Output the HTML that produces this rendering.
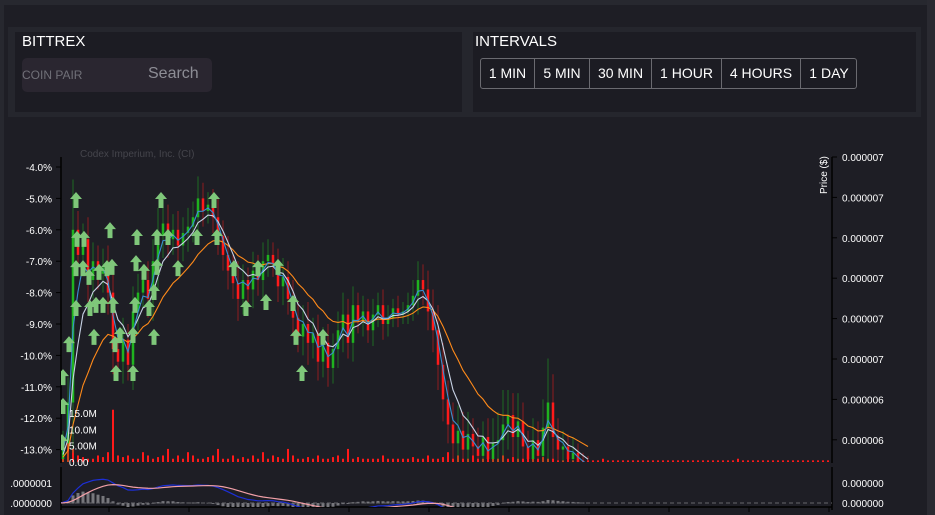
<!DOCTYPE html>
<html><head><meta charset="utf-8"><style>
*{margin:0;padding:0;box-sizing:border-box}
body{width:935px;height:515px;overflow:hidden;background:#1e1e25;font-family:"Liberation Sans",sans-serif;position:relative}
.abs{position:absolute}
.btn{position:absolute;top:0;height:30px;border-right:1px solid #6a6a70;color:#fff;font-size:14px;line-height:29px;text-align:center}
</style></head><body>
<div class="abs" style="left:0;top:0;width:935px;height:5px;background:#27282f"></div>
<div class="abs" style="left:0;top:0;width:4px;height:515px;background:#27282f"></div>
<div class="abs" style="left:927px;top:0;width:8px;height:515px;background:#2a2a31"></div>
<div class="abs" style="left:8px;top:27px;width:913px;height:90px;background:#25262d"></div>
<div class="abs" style="left:15px;top:32px;width:447px;height:80px;background:#1c1c23"></div>
<div class="abs" style="left:473px;top:32px;width:443px;height:80px;background:#1c1c23"></div>
<div class="abs" style="left:22px;top:33px;color:#fff;font-size:15px">BITTREX</div>
<div class="abs" style="left:22px;top:58px;width:190px;height:34px;background:#2a2630;border-radius:5px">
 <span style="position:absolute;left:0;top:10px;font-size:12px;color:#707078">COIN PAIR</span>
 <span style="position:absolute;left:126px;top:7px;font-size:16px;color:#8d8d95">Search</span>
</div>
<div class="abs" style="left:475px;top:33px;color:#fff;font-size:15px">INTERVALS</div>
<div class="abs" style="left:480px;top:58px;width:377px;height:31px;border:1px solid #6a6a70;border-radius:3px">
 <div class="btn" style="left:0;width:54px">1 MIN</div>
 <div class="btn" style="left:54px;width:55px">5 MIN</div>
 <div class="btn" style="left:109px;width:62px">30 MIN</div>
 <div class="btn" style="left:171px;width:70px">1 HOUR</div>
 <div class="btn" style="left:241px;width:79px">4 HOURS</div>
 <div class="btn" style="left:320px;width:56px;border-right:none">1 DAY</div>
</div>
<svg id="chart" class="abs" style="left:0;top:0" width="935" height="515" font-family="Liberation Sans, sans-serif">
<defs><clipPath id="cm"><rect x="61" y="150" width="771" height="312"/></clipPath>
<clipPath id="ci"><rect x="61" y="466" width="771" height="41"/></clipPath></defs>
<g id="axes"></g><g id="vol" clip-path="url(#cm)"></g><g id="candles" clip-path="url(#cm)"></g><g id="mas" clip-path="url(#cm)"></g><g id="sig" clip-path="url(#cm)"></g><g id="ind" clip-path="url(#ci)"></g><g id="labels"></g>
</svg>
<script>
const closes=[-12.8,-11.5,-6.0,-6.8,-6.3,-7.6,-7.0,-7.4,-7.2,-8.0,-9.8,-10.2,-9.5,-10.3,-8.6,-8.0,-7.6,-8.2,-7.0,-6.2,-5.8,-6.3,-6.0,-6.5,-6.1,-5.9,-5.6,-5.0,-5.4,-5.2,-5.6,-6.2,-6.8,-7.3,-7.7,-8.2,-7.6,-7.9,-7.3,-7.6,-7.0,-6.8,-7.1,-7.8,-7.5,-8.2,-8.8,-9.4,-9.0,-9.6,-9.3,-10.2,-9.6,-10.4,-9.8,-9.2,-8.7,-9.6,-8.4,-8.9,-8.6,-9.2,-8.7,-8.4,-9.0,-8.8,-8.5,-8.7,-8.6,-8.4,-8.1,-7.6,-7.9,-8.6,-9.2,-10.3,-11.4,-12.2,-12.8,-12.4,-13.0,-12.5,-12.9,-13.2,-12.6,-13.3,-12.8,-12.7,-12.2,-11.9,-12.6,-12.1,-12.9,-13.3,-12.7,-13.2,-12.3,-11.5,-12.6,-13.0,-12.9,-13.3,-13.1,-13.4,-13.5,-13.6];
const firstOpen=-13.3;
const wicks=[0.4,0.8,1.6,0.6,0.5,0.7,0.6,0.5,0.6,0.7,0.8,0.6,0.7,0.5,0.8,0.6,0.5,0.6,0.7,0.9,0.7,0.6,0.5,0.6,0.5,0.6,0.5,0.7,0.5,0.4,0.5,0.6,0.5,0.6,0.5,0.7,0.5,0.4,0.6,0.5,0.6,0.5,0.4,0.5,0.6,0.5,0.6,0.5,0.6,0.7,0.5,0.6,0.5,0.6,0.5,0.6,0.7,0.5,0.6,0.4,0.5,0.4,0.5,0.4,0.5,0.4,0.3,0.4,0.3,0.4,0.5,0.6,0.5,0.6,0.7,0.8,0.7,0.6,0.7,0.8,0.6,0.7,0.5,0.6,0.5,0.6,0.8,0.9,1.1,0.8,0.7,0.9,0.6,0.5,0.7,0.6,0.9,1.4,0.9,0.6,0.5,0.4,0.5,0.3,0.3,0.3];
const volumes=[6,9,4,2,1.5,1,1,2,1.5,3,16,2,1.5,2,1,1,3,2,1,1.5,2,4,1,2,1,3,2,1,1,1.5,2,4,1,1,2,1,1.5,1,2,1,3,1,2,1.5,1,4,2,1,1,1.5,1,2,1,1,1.5,2,1,4,1,1.5,1,1,1,1,2,1,1,1,1,1,1.5,1,1,2,1,1,1.5,3,1,2,1,1,2,1,1,1.5,1,1,2,1,1.5,1,1,2,1,1,1.5,1,1,0.5,0.5,1,0.5,0.5,0.5,0.5,0.5,0.5,1,0.5,0.5,0.5,0.5,0.5,0.5,0.5,0.5,0.5,0.5,0.5,0.5,0.5,0.5,0.5,0.5,0.5,0.5,0.5,0.5,0.5,0.5,0.5,0.5,0.5,0.5,1,0.5,0.5,0.5,0.5,0.5,0.5,0.5,0.5,0.5,0.5,0.5,0.5,0.5,0.5,0.5,0.5,0.5,0.5];
const signalIdx=[2.6,2.8,4.2,2.6,4.0,2.6,1.2,0,0,-0.2,5.2,5.4,6.2,6.6,7.2,8,8.8,9.4,9.8,10,10.4,10.6,11.4,14,14,14.4,14.8,14.6,16.2,17.2,18.2,18.2,18.8,18.8,19.6,21,23,26.8,30.2,30.8,34.2,36.6,39,40.6,43,46,46.6,47.8,52];
const signalPct=[-5.05,-6.29,-6.29,-7.22,-7.22,-8.49,-9.64,-10.69,-11.61,-12.76,-7.50,-8.49,-9.41,-8.39,-7.34,-8.39,-7.22,-6.01,-7.18,-8.39,-9.64,-10.56,-9.35,-9.35,-10.56,-8.39,-6.23,-7.06,-7.34,-8.49,-7.98,-9.41,-6.23,-7.18,-5.05,-6.23,-7.22,-6.23,-5.05,-6.23,-7.22,-8.49,-7.22,-8.30,-7.18,-8.33,-9.41,-10.56,-9.41];
const pctTicks=[-4,-5,-6,-7,-8,-9,-10,-11,-12,-13];
const priceTicks=["0.000007","0.000007","0.000007","0.000007","0.000007","0.000007","0.000006","0.000006"];
const volTicks=[["15.0M",15],["10.0M",10],["5.00M",5],["0.00",0]];
const NS="http://www.w3.org/2000/svg";
const X=i=>63+5*i, Y=p=>167+(-4-p)*31.4, YV=v=>462-v*49/15, YI=m=>503-m*14;
function mk(t,a,parent,txt){const e=document.createElementNS(NS,t);for(const k in a)e.setAttribute(k,a[k]);if(txt!==undefined)e.textContent=txt;document.getElementById(parent).appendChild(e);return e;}
let e=mk('line',{x1:61,y1:157,x2:61,y2:463,stroke:'#000','stroke-width':1.5},'axes');

e=mk('line',{x1:832,y1:157,x2:832,y2:463,stroke:'#000','stroke-width':1.5},'axes');

e=mk('line',{x1:61,y1:467,x2:61,y2:510,stroke:'#000','stroke-width':1.5},'axes');

e=mk('line',{x1:832,y1:467,x2:832,y2:510,stroke:'#000','stroke-width':1.5},'axes');

e=mk('line',{x1:61,y1:507,x2:832,y2:507,stroke:'#000','stroke-width':1.5},'axes');

for(let k=0;k<10;k++){e=mk('line',{x1:109+80*k,y1:507,x2:109+80*k,y2:512,stroke:'#000'},'axes');}
pctTicks.forEach(p=>{mk('line',{x1:56,y1:Y(p),x2:61,y2:Y(p),stroke:'#000'},'axes');
 e=mk('text',{x:52,y:Y(p)+4,'text-anchor':'end',fill:'#fff','font-size':10},'axes',p.toFixed(1)+'%');
 });
priceTicks.forEach((t,k)=>{const y=157+40.4*k;mk('line',{x1:832,y1:y,x2:837,y2:y,stroke:'#000'},'axes');
 e=mk('text',{x:842,y:y+4,fill:'#fff','font-size':10},'axes',t);
 });
[[483,'.0000001'],[503,'.0000000']].forEach(([y,t])=>{e=mk('text',{x:52,y:y+4,'text-anchor':'end',fill:'#fff','font-size':10},'axes',t);
 
 e=mk('text',{x:842,y:y+4,fill:'#fff','font-size':10},'axes','0.000000');
 });
e=mk('text',{x:0,y:0,transform:'translate(827,194) rotate(-90)',fill:'#fff','font-size':10},'axes','Price ($)');

e=mk('text',{x:80,y:157,fill:'#45454c','font-size':10},'axes','Codex Imperium, Inc. (CI)');

volumes.forEach((v,i)=>{e=mk('rect',{x:X(i)-1,y:YV(v),width:2,height:462-YV(v),fill:'#ff1a1a'},'vol');
 });
volTicks.forEach(([t,v])=>{e=mk('text',{x:69,y:YV(v)+4,fill:'#fff','font-size':10},'labels',t);
 });
closes.forEach((c,i)=>{const o=i?closes[i-1]:firstOpen;const up=c>o;const col=up?'#1fb31f':'#ff1a1a';
 const hi=Math.max(o,c)+wicks[i],lo=Math.min(o,c)-wicks[i];
 e=mk('line',{x1:X(i),y1:Y(hi),x2:X(i),y2:Y(lo),stroke:col,'stroke-opacity':0.5},'candles');
 
 e=mk('rect',{x:X(i)-1.25,y:Y(Math.max(o,c)),width:2.5,height:Math.max(1,Math.abs(Y(o)-Y(c))),fill:col},'candles');
 });
function ema(arr,n){const a=2/(n+1);let r=[arr[0]];for(let i=1;i<arr.length;i++)r.push(a*arr[i]+(1-a)*r[i-1]);return r;}
[[16,'#ff8a1a','ma-slow'],[6,'#c8d3e6','ma-medium'],[3,'#3a8fd0','ma-fast']].forEach(([n,col,nm])=>{
 const m=ema([firstOpen].concat(closes),n).slice(1);
 e=mk('polyline',{points:m.map((v,i)=>X(i)+','+Y(v)).join(' '),fill:'none',stroke:col,'stroke-width':1.1},'mas');
 });
signalIdx.forEach((s,k)=>{const x=X(s),y=Y(signalPct[k]);
 e=mk('polygon',{points:`${x},${y-8} ${x+6},${y-1} ${x+2.5},${y-1} ${x+2.5},${y+8} ${x-2.5},${y+8} ${x-2.5},${y-1} ${x-6},${y-1}`,fill:'#7fc77a'},'sig');
 });
const full=[firstOpen].concat(closes);
const e12=ema(full,12),e26=ema(full,26);const macd=e12.map((v,i)=>v-e26[i]);const sg=ema(macd,9);
macd.forEach((v,i)=>{const h=v-sg[i];const y0=YI(0),y1=YI(h);
 e=mk('rect',{x:X(i-1)-1.5,y:Math.min(y0,y1),width:3,height:Math.abs(y1-y0)+0.5,fill:'#77777c'},'ind');
 });
e=mk('line',{x1:61,y1:YI(0),x2:832,y2:YI(0),stroke:'#66666b','stroke-dasharray':'4,3'},'ind');

e=mk('polyline',{points:macd.map((v,i)=>X(i-1)+','+YI(v)).join(' '),fill:'none',stroke:'#1d2fd6','stroke-width':1.2},'ind');

e=mk('polyline',{points:sg.map((v,i)=>X(i-1)+','+YI(v)).join(' '),fill:'none',stroke:'#f2a0a8','stroke-width':1.2},'ind');

</script>
</body></html>
